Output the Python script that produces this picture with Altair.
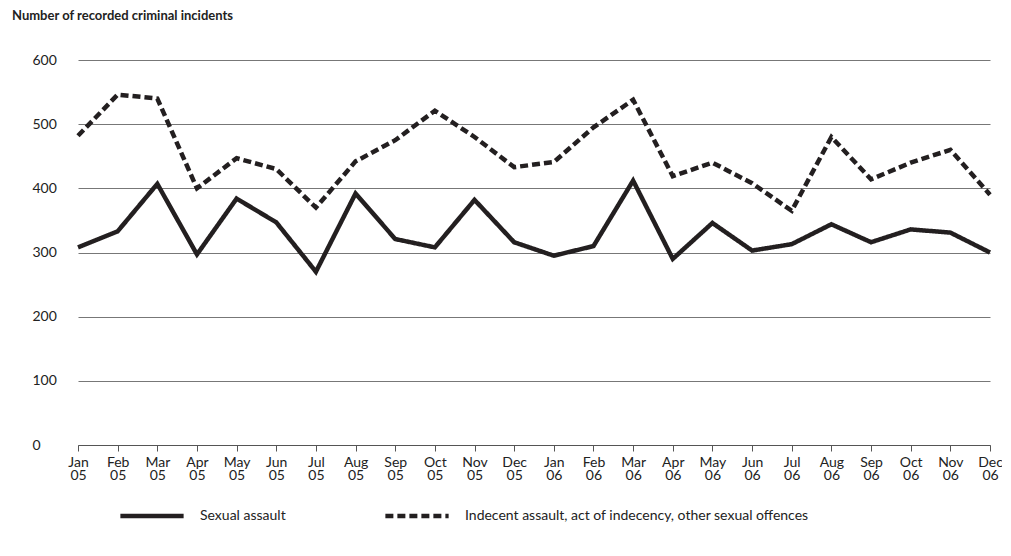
import pandas as pd
import altair as alt

months = ["Jan 05", "Feb 05", "Mar 05", "Apr 05", "May 05", "Jun 05", "Jul 05", "Aug 05",
          "Sep 05", "Oct 05", "Nov 05", "Dec 05", "Jan 06", "Feb 06", "Mar 06", "Apr 06",
          "May 06", "Jun 06", "Jul 06", "Aug 06", "Sep 06", "Oct 06", "Nov 06", "Dec 06"]
sexual_assault = [308, 333, 407, 297, 384, 347, 270, 392, 321, 308, 382, 316,
                  295, 310, 412, 290, 346, 303, 313, 344, 316, 336, 331, 300]
indecent_assault = [482, 546, 540, 400, 447, 430, 370, 442, 475, 521, 480, 433,
                    441, 495, 538, 419, 440, 408, 365, 480, 414, 440, 460, 390]
series_names = ["Sexual assault", "Indecent assault, act of indecency, other sexual offences"]

df = pd.concat([
    pd.DataFrame({"month": months, "value": sexual_assault, "series": series_names[0]}),
    pd.DataFrame({"month": months, "value": indecent_assault, "series": series_names[1]}),
])

font = "Lato"

chart = alt.Chart(df).mark_line(strokeWidth=4.5, strokeCap="butt").encode(
    x=alt.X("month:O", sort=months, title=None,
            scale=alt.Scale(type="point", padding=0),
            axis=alt.Axis(labelAngle=0, labelExpr="split(datum.label, ' ')",
                          labelFontSize=14, labelColor="#222", labelLineHeight=13,
                          domainColor="#555", tickColor="#555", tickSize=6,
                          labelPadding=4, grid=False)),
    y=alt.Y("value:Q", title=None,
            scale=alt.Scale(domain=[0, 600]),
            axis=alt.Axis(values=[0, 100, 200, 300, 400, 500, 600], domain=False, ticks=False,
                          labelFontSize=14, labelColor="#222", labelPadding=46,
                          labelAlign="left", gridColor="#777", gridWidth=1)),
    color=alt.Color("series:N", sort=series_names,
                    scale=alt.Scale(domain=series_names, range=["#231f20", "#231f20"]),
                    legend=alt.Legend(title=None, orient="none", legendX=40, legendY=422,
                                      direction="horizontal", symbolType="stroke",
                                      symbolSize=4000, symbolStrokeWidth=4.5,
                                      labelFontSize=14, labelColor="#222", labelLimit=0,
                                      columnPadding=90, labelOffset=14)),
    strokeDash=alt.StrokeDash("series:N", sort=series_names,
                              scale=alt.Scale(domain=series_names, range=[[1, 0], [8, 4]]),
                              legend=None),
).properties(
    width=912, height=385,
    title=alt.Title("Number of recorded criminal incidents", anchor="start", frame="group",
                    dx=-66, offset=30, fontSize=13, fontWeight="bold", color="#222", font=font),
    autosize=alt.AutoSizeParams(type="none"),
    padding={"left": 70, "top": 52, "right": 12, "bottom": 100},
).configure(font=font).configure_view(strokeWidth=0)

chart.save("out.html", embed_options={"renderer": "svg", "actions": False})
